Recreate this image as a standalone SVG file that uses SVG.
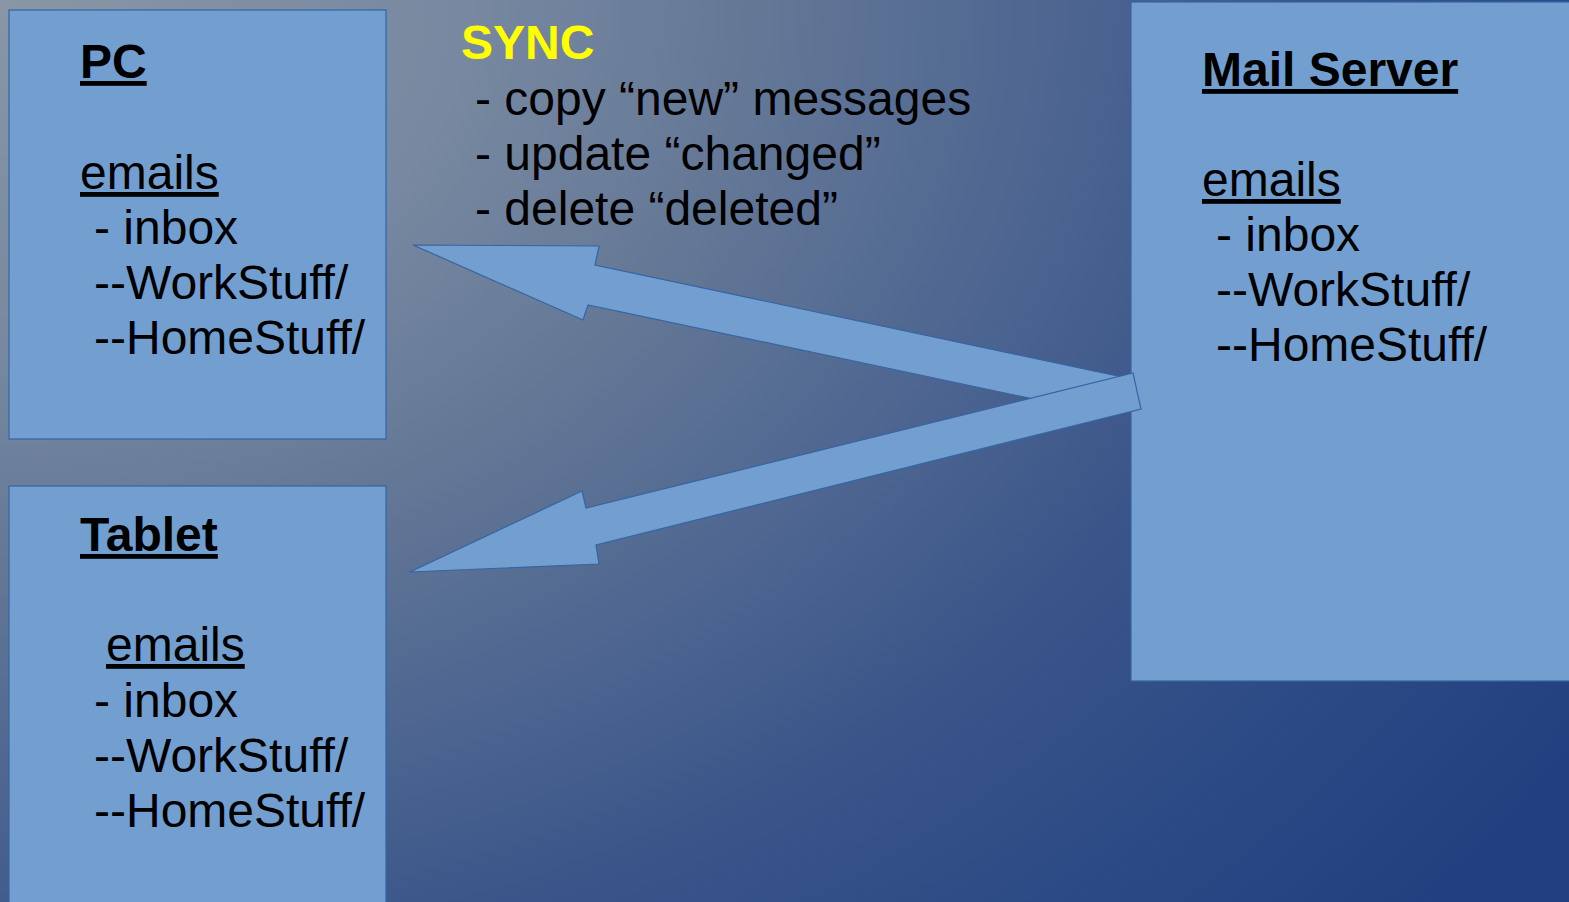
<svg xmlns="http://www.w3.org/2000/svg" width="1569" height="902" viewBox="0 0 1569 902">
  <defs>
    <radialGradient id="bg" gradientUnits="userSpaceOnUse" cx="0" cy="0" r="1400" gradientTransform="scale(1.34,1)">
      <stop offset="0" stop-color="#8896a6"/>
      <stop offset="0.25" stop-color="#7788a0"/>
      <stop offset="0.4" stop-color="#647896"/>
      <stop offset="0.55" stop-color="#4f6791"/>
      <stop offset="0.7" stop-color="#3a5589"/>
      <stop offset="0.85" stop-color="#2c4a85"/>
      <stop offset="1" stop-color="#22407f"/>
    </radialGradient>
    <style>
      .box { fill: #729fcf; stroke: #3465a4; stroke-width: 1.2; }
      .arrow { fill: #729fcf; stroke: #3465a4; stroke-width: 1.2; stroke-linejoin: miter; }
      text { font-family: "Liberation Sans", Arial, sans-serif; font-size: 48px; fill: #000000; }
      .title { font-weight: bold; text-decoration: underline; }
      .ul { text-decoration: underline; }
      .sync { font-weight: bold; fill: #ffff00; }
    </style>
  </defs>
  <rect x="0" y="0" width="1569" height="902" fill="url(#bg)"/>

  <g id="pc">
    <rect class="box" x="9" y="10" width="377" height="429"/>
    <text class="title" x="80" y="78">PC</text>
    <text class="ul" x="80" y="189">emails</text>
    <text x="94" y="244">- inbox</text>
    <text x="94" y="299">--WorkStuff/</text>
    <text x="94" y="354">--HomeStuff/</text>
  </g>

  <g id="tablet">
    <rect class="box" x="9" y="486" width="377" height="430"/>
    <text class="title" x="80" y="551">Tablet</text>
    <text class="ul" x="106" y="661">emails</text>
    <text x="94" y="717">- inbox</text>
    <text x="94" y="772">--WorkStuff/</text>
    <text x="94" y="827">--HomeStuff/</text>
  </g>

  <g id="mail-server">
    <rect class="box" x="1131" y="2" width="450" height="679"/>
    <text class="title" x="1202" y="86">Mail Server</text>
    <text class="ul" x="1202" y="196">emails</text>
    <text x="1216" y="251">- inbox</text>
    <text x="1216" y="306">--WorkStuff/</text>
    <text x="1216" y="361">--HomeStuff/</text>
  </g>

  <g id="sync-label">
    <text class="sync" x="461" y="59">SYNC</text>
    <text x="475" y="115">- copy “new” messages</text>
    <text x="475" y="170">- update “changed”</text>
    <text x="475" y="225">- delete “deleted”</text>
  </g>

  <g id="connectors">
    <polygon class="arrow" points="413,245 599,246 595,265 1122,377 1114,416 588,305 583,320"/>
    <polygon class="arrow" points="410,572 599,564 596,545 1141,409 1133,373 586,508 582,491"/>
  </g>
</svg>
